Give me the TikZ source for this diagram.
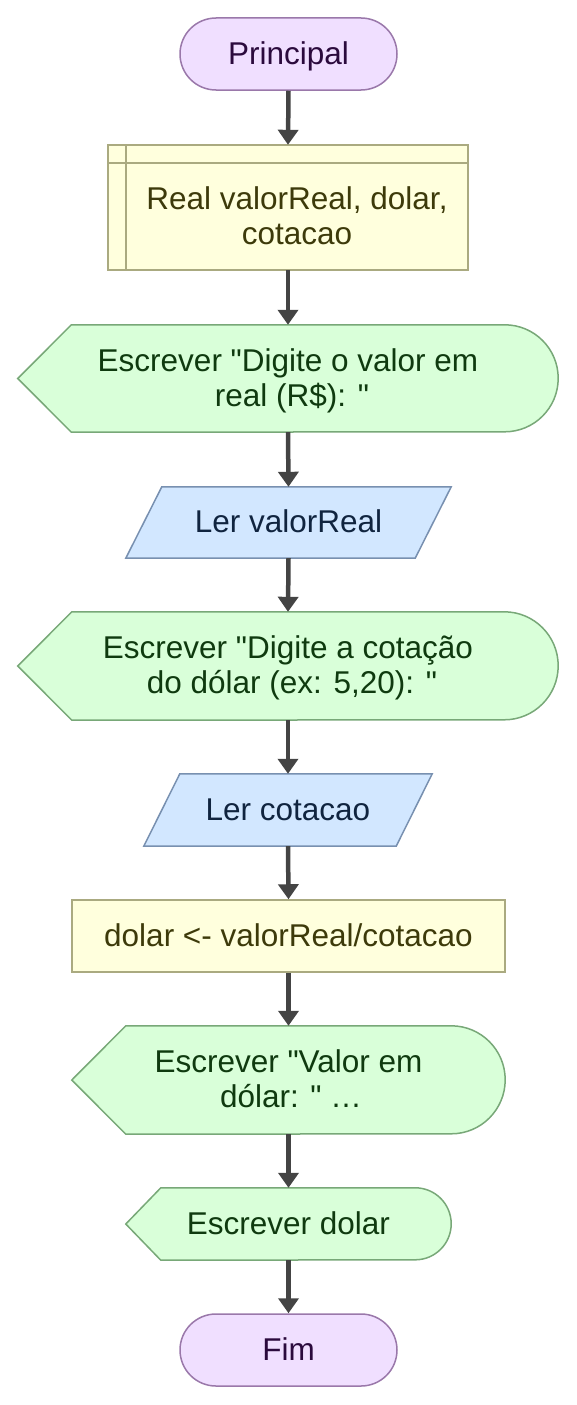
\documentclass[tikz,border=0pt]{standalone}
\usepackage{fontspec}
\setmainfont{Liberation Sans}[Ligatures=TeXOff]
\usetikzlibrary{arrows.meta,backgrounds}
\definecolor{pfill}{HTML}{F0DFFF}
\definecolor{pdraw}{HTML}{9A78AA}
\definecolor{ptext}{HTML}{2B0A3D}
\definecolor{yfill}{HTML}{FFFFDD}
\definecolor{ydraw}{HTML}{AAAA80}
\definecolor{ytext}{HTML}{3D3A0A}
\definecolor{gfill}{HTML}{D9FFD9}
\definecolor{gdraw}{HTML}{78A878}
\definecolor{gtext}{HTML}{0F3A0F}
\definecolor{bfill}{HTML}{D2E7FF}
\definecolor{bdraw}{HTML}{7890B0}
\definecolor{btext}{HTML}{10243F}
\definecolor{arrowc}{HTML}{444444}
\newcommand{\dq}{\char34\relax}
\newcommand{\st}{\rule[-7.1pt]{0pt}{35pt}}
\begin{document}
\begin{tikzpicture}[x=1pt,y=-1pt,
  every node/.style={font=\fontsize{31.5}{35}\selectfont, align=center, inner sep=0pt},
  sz/.style 2 args={minimum width=#1pt, minimum height=#2pt},
  arr/.style={draw=arrowc, line width=4.5pt, -{Triangle[width=20pt,length=15pt]}},
  term/.style={draw=pdraw, fill=pfill, line width=1.5pt, rounded corners=36pt, text=ptext},
  proc/.style={draw=ydraw, fill=yfill, line width=1.5pt},
  outp/.style={draw=gdraw, fill=gfill, line width=1.5pt},
  inp/.style={draw=bdraw, fill=bfill, line width=1.5pt}]
\useasboundingbox (0,0) rectangle (577,1405);

% nodes
\node[term, sz={217}{72}] (start) at (288.5,54) {\st Principal};
\node[sz={360}{125}] (d) at (288,207.5) {};
\node[text=ytext] (dt) at (297,217) {\st Real valorReal, dolar,\\\st cotacao};
\node[sz={540}{107}, text=gtext] (o1) at (288,378.5) {\st Escrever \dq Digite o valor em\\\st\hspace*{8pt}real (R\$): \dq};
\node[sz={325}{71}, text=btext] (p1) at (288.5,522.5) {\st Ler valorReal};
\node[sz={540}{108}, text=gtext] (o2) at (288,666) {\st Escrever \dq Digite a cotação\\\st\hspace*{8pt}do dólar (ex: 5,20): \dq};
\node[sz={288}{72}, text=btext] (p2) at (288,810) {\st Ler cotacao};
\node[proc, sz={433}{72}, text=ytext] (pr) at (288.5,936) {\st dolar <- valorReal/cotacao};
\node[sz={433}{108}, text=gtext] (o3) at (288.5,1080) {\st Escrever \dq Valor em\\\st\hspace*{5pt}dólar: \dq{} …};
\node[sz={325}{72}, text=gtext] (o4) at (288.5,1224) {\st Escrever dolar};
\node[term, sz={217}{72}] (fim) at (288.5,1350) {\st Fim};

\begin{scope}[on background layer]
  % declaration box
  \draw[proc] (d.north west) rectangle (d.south east);
  \draw[draw=ydraw, line width=1.5pt] ([xshift=18pt]d.north west) -- ([xshift=18pt]d.south west);
  \draw[draw=ydraw, line width=1.5pt] ([yshift=-18pt]d.north west) -- ([yshift=-18pt]d.north east);
  % outputs
  \draw[outp] (o1.west) -- ([xshift=53.5pt]o1.north west) -- ([xshift=-53.5pt]o1.north east)
     arc[start angle=90, end angle=-90, radius=53.5pt] -- ([xshift=53.5pt]o1.south west) -- cycle;
  \draw[outp] (o2.west) -- ([xshift=54pt]o2.north west) -- ([xshift=-54pt]o2.north east)
     arc[start angle=90, end angle=-90, radius=54pt] -- ([xshift=54pt]o2.south west) -- cycle;
  \draw[outp] (o3.west) -- ([xshift=54pt]o3.north west) -- ([xshift=-54pt]o3.north east)
     arc[start angle=90, end angle=-90, radius=54pt] -- ([xshift=54pt]o3.south west) -- cycle;
  \draw[outp] (o4.west) -- ([xshift=35pt]o4.north west) -- ([xshift=-36pt]o4.north east)
     arc[start angle=90, end angle=-90, radius=36pt] -- ([xshift=35pt]o4.south west) -- cycle;
  % inputs
  \draw[inp] ([xshift=36pt]p1.north west) -- (p1.north east) -- ([xshift=-36pt]p1.south east) -- (p1.south west) -- cycle;
  \draw[inp] ([xshift=36pt]p2.north west) -- (p2.north east) -- ([xshift=-36pt]p2.south east) -- (p2.south west) -- cycle;
\end{scope}

% connectors
\draw[arr] (start.south) -- (d.north);
\draw[arr] (d.south) -- (o1.north);
\draw[arr] (o1.south) -- (p1.north);
\draw[arr] (p1.south) -- (o2.north);
\draw[arr] (o2.south) -- (p2.north);
\draw[arr] (p2.south) -- (pr.north);
\draw[arr] (pr.south) -- (o3.north);
\draw[arr] (o3.south) -- (o4.north);
\draw[arr] (o4.south) -- (fim.north);
\end{tikzpicture}
\end{document}
